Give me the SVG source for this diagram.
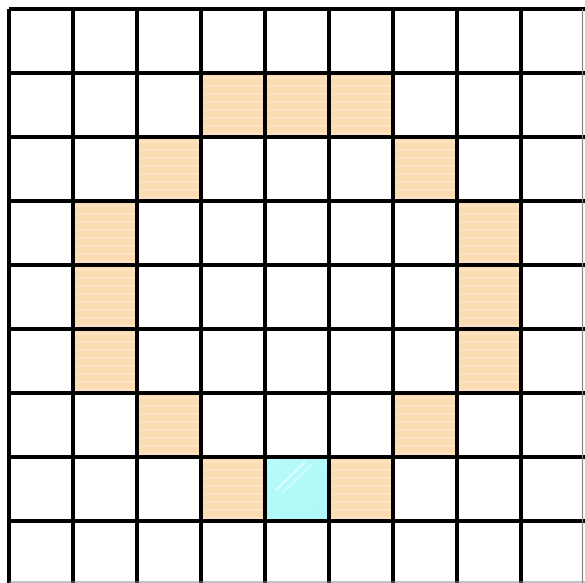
<svg xmlns="http://www.w3.org/2000/svg" width="585" height="583" viewBox="0 0 585 583">
<defs>
<pattern id="stripes" width="64" height="8" patternUnits="userSpaceOnUse">
<rect width="64" height="8" fill="#FCDCB2"/>
<rect y="5" width="64" height="2" fill="#FDE3C4"/>
</pattern>
<linearGradient id="glass" x1="0" y1="0" x2="1" y2="1">
<stop offset="0" stop-color="#B8FBFB"/>
<stop offset="1" stop-color="#AEF7F8"/>
</linearGradient>
<style>
.o{fill:url(#stripes)}
.g{stroke:#000;stroke-width:4;fill:none}
</style>
</defs>
<rect width="585" height="583" fill="#fff"/>
<g id="cells">
<rect class="o" x="201" y="73" width="64" height="64"/>
<rect class="o" x="265" y="73" width="64" height="64"/>
<rect class="o" x="329" y="73" width="64" height="64"/>
<rect class="o" x="137" y="137" width="64" height="64"/>
<rect class="o" x="393" y="137" width="64" height="64"/>
<rect class="o" x="73" y="201" width="64" height="64"/>
<rect class="o" x="457" y="201" width="64" height="64"/>
<rect class="o" x="73" y="265" width="64" height="64"/>
<rect class="o" x="457" y="265" width="64" height="64"/>
<rect class="o" x="73" y="329" width="64" height="64"/>
<rect class="o" x="457" y="329" width="64" height="64"/>
<rect class="o" x="137" y="393" width="64" height="64"/>
<rect class="o" x="393" y="393" width="64" height="64"/>
<rect class="o" x="201" y="457" width="64" height="64"/>
<rect class="o" x="329" y="457" width="64" height="64"/>
<g id="glass-cell">
<rect x="265" y="457" width="64" height="64" fill="url(#glass)"/>
<line x1="276" y1="490" x2="305" y2="462" stroke="#E6FFFF" stroke-width="2" opacity="0.8"/>
<line x1="282" y1="493" x2="311" y2="465" stroke="#E6FFFF" stroke-width="1.5" opacity="0.7"/>
</g>
</g>
<g id="grid">
<path class="g" d="M9 9V583M73 9V583M137 9V583M201 9V583M265 9V583M329 9V583M393 9V583M457 9V583M521 9V583"/>
<path class="g" d="M9 9H585M9 73H585M9 137H585M9 201H585M9 265H585M9 329H585M9 393H585M9 457H585M9 521H585"/>
<path d="M582.5 9V583M9 582H585" stroke="#888" stroke-width="1.2" fill="none"/>
</g>
</svg>
